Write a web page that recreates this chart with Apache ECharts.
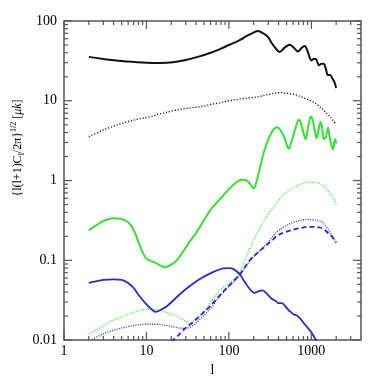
<!DOCTYPE html>
<html>
<head>
<meta charset="utf-8">
<script src="https://cdn.jsdelivr.net/npm/echarts@6/dist/echarts.min.js"></script>
<style>
  html, body { margin: 0; padding: 0; background: #fff; }
  #main { width: 382px; height: 382px; }
</style>
</head>
<body>
<div id="main"></div>
<script>
// [l, value] pairs
const blackSolid = [[2,35.5],[3,33.5],[4,32.3],[6,31],[10,30],[15,29.8],[21,30.5],[30,32.5],[44,36],[60,40],[78,44.5],[100,50],[135,57.5],[165,65],[196,71],[225,75],[260,70],[298,63],[330,53],[360,47],[413,41],[470,46],[547,50.5],[610,46.5],[690,41.5],[760,46],[830,48.7],[900,42],[1000,32],[1070,33.5],[1130,33.5],[1190,30],[1243,27.8],[1330,29.2],[1420,29],[1500,25],[1590,21],[1690,21],[1800,19],[1900,17.2],[2000,14.5]];
const blackDotted = [[2,3.55],[3,4.3],[4,4.8],[6,5.5],[8,5.9],[11,6.3],[15,6.9],[20,7.4],[30,8.0],[44,8.4],[60,9.0],[77,9.4],[100,10.0],[135,10.5],[180,10.9],[225,11.2],[300,12.0],[414,12.7],[500,12.4],[660,11.8],[800,10.9],[1050,9.7],[1250,8.5],[1510,7.08],[1750,6.0],[2000,5.07]];
const greenSolid = [[2,0.237],[3,0.31],[4,0.338],[5,0.33],[6,0.3],[7,0.24],[8,0.17],[9,0.125],[10,0.105],[11,0.099],[13,0.093],[15,0.085],[17,0.082],[19,0.086],[23,0.098],[28,0.13],[34,0.175],[40,0.22],[50,0.32],[60,0.43],[75,0.56],[100,0.78],[125,0.96],[145,1.02],[165,1.0],[185,0.88],[200,0.79],[215,0.95],[235,1.36],[270,2.4],[311,3.55],[350,4.4],[385,4.65],[420,4.3],[470,3.5],[510,2.7],[535,2.5],[565,2.9],[620,4.0],[680,5.5],[710,5.8],[750,5.2],[800,4.0],[850,3.3],[900,4.3],[960,6.0],[1000,6.3],[1060,5.2],[1120,3.8],[1160,3.4],[1220,4.3],[1290,5.4],[1340,4.8],[1420,3.3],[1500,3.5],[1590,4.6],[1660,3.6],[1720,3.0],[1830,2.45],[1900,3.1],[1950,3.3],[2000,2.9]];
const greenDotted = [[2,0.0118],[3,0.015],[4,0.0178],[6,0.021],[8,0.0233],[10,0.0242],[13,0.0243],[17,0.0225],[21,0.0208],[27,0.0185],[33,0.0166],[40,0.018],[50,0.023],[64,0.0324],[80,0.043],[102,0.052],[129,0.066],[155,0.1],[200,0.18],[235,0.25],[290,0.36],[344,0.46],[440,0.63],[548,0.765],[700,0.88],[870,0.944],[1050,0.95],[1220,0.93],[1450,0.83],[1660,0.7],[1850,0.6],[2000,0.5]];
const blueSolid = [[2,0.052],[3,0.057],[4,0.0578],[5,0.057],[6,0.052],[7,0.045],[8,0.037],[10,0.028],[12,0.0235],[13,0.0226],[15,0.024],[18,0.027],[25,0.037],[33,0.047],[44,0.058],[64,0.071],[85,0.079],[100,0.08],[115,0.077],[135,0.067],[155,0.054],[178,0.044],[205,0.039],[230,0.041],[255,0.042],[290,0.038],[330,0.033],[370,0.031],[400,0.029],[440,0.029],[490,0.026],[548,0.023],[610,0.021],[660,0.0205],[720,0.019],[830,0.0158],[1000,0.0125],[1150,0.0097]];
const blueDotted = [[2.2,0.0102],[3,0.012],[4,0.0133],[6,0.0148],[8,0.0155],[10,0.0158],[13,0.0158],[17,0.0153],[22,0.0145],[28,0.014],[35,0.0148],[44,0.018],[60,0.025],[77,0.035],[100,0.047],[135,0.065],[179,0.098],[230,0.128],[272,0.152],[330,0.19],[377,0.225],[460,0.26],[605,0.3],[750,0.318],[910,0.325],[1100,0.32],[1270,0.31],[1450,0.28],[1590,0.245],[1800,0.2],[2000,0.166]];
const blueDashed = [[20,0.0095],[25,0.0118],[30,0.0143],[36,0.0165],[44,0.02],[60,0.027],[77,0.036],[100,0.048],[135,0.066],[179,0.1],[230,0.128],[272,0.148],[330,0.175],[377,0.2],[460,0.222],[605,0.242],[750,0.255],[910,0.263],[1100,0.262],[1270,0.258],[1450,0.24],[1590,0.22],[1800,0.195],[2000,0.168]];

// tick positions
const xMajorTicks = [1, 10, 100, 1000];
const xMinorTicks = [2,3,4,5,6,7,8,9,20,30,40,50,60,70,80,90,200,300,400,500,600,700,800,900,2000,3000];
const yMajorTicks = [0.01, 0.1, 1, 10, 100];
const yMinorTicks = [0.02,0.03,0.04,0.05,0.06,0.07,0.08,0.09,0.2,0.3,0.4,0.5,0.6,0.7,0.8,0.9,2,3,4,5,6,7,8,9,20,30,40,50,60,70,80,90];

const X_MIN = 1, X_MAX = 4000, Y_MIN = 0.01, Y_MAX = 100;
const frameColor = '#555';
const serif = '"Liberation Serif", "DejaVu Serif", serif';

// [x, y, length, side] side 0 = x tick, 1 = y tick
const tickData = [];
xMajorTicks.forEach(v => tickData.push([v, Y_MIN, 8, 0]));
xMinorTicks.forEach(v => tickData.push([v, Y_MIN, 4, 0]));
yMajorTicks.forEach(v => tickData.push([X_MIN, v, 8, 1]));
yMinorTicks.forEach(v => tickData.push([X_MIN, v, 4, 1]));

function renderTick(params, api) {
  const r = params.coordSys;
  const p = api.coord([api.value(0), api.value(1)]);
  const len = api.value(2);
  const style = { stroke: frameColor, lineWidth: 1.2 };
  let a, b;
  if (api.value(3) === 0) {
    const bot = r.y + r.height;
    a = { x1: p[0], y1: bot, x2: p[0], y2: bot - len };
    b = { x1: p[0], y1: r.y, x2: p[0], y2: r.y + len };
  } else {
    const right = r.x + r.width;
    a = { x1: r.x, y1: p[1], x2: r.x + len, y2: p[1] };
    b = { x1: right, y1: p[1], x2: right - len, y2: p[1] };
  }
  return {
    type: 'group',
    children: [
      { type: 'line', shape: a, style: style },
      { type: 'line', shape: b, style: style }
    ]
  };
}

function line(data, color, width, type) {
  return {
    type: 'line',
    data: data,
    showSymbol: false,
    smooth: 0.35,
    lineStyle: { color: color, width: width, type: type },
    z: 3
  };
}

const chart = echarts.init(document.getElementById('main'));
const option = {
  animation: false,
  grid: {
    left: 64, right: 21, top: 21, bottom: 41,
    show: true, borderColor: frameColor, borderWidth: 1.5
  },
  xAxis: {
    type: 'log', min: X_MIN, max: X_MAX, logBase: 10,
    name: 'l', nameLocation: 'middle', nameGap: 18,
    nameTextStyle: { fontFamily: serif, fontSize: 14, color: '#000' },
    axisLine: { show: false },
    axisTick: { show: false },
    splitLine: { show: false },
    minorTick: { show: false },
    axisLabel: {
      showMaxLabel: false, margin: 4,
      fontFamily: serif, fontSize: 14, color: '#000',
      formatter: v => String(+Number(v).toPrecision(3))
    }
  },
  yAxis: {
    type: 'log', min: Y_MIN, max: Y_MAX, logBase: 10,
    axisLine: { show: false },
    axisTick: { show: false },
    splitLine: { show: false },
    axisLabel: {
      margin: 7,
      fontFamily: serif, fontSize: 14, color: '#000',
      formatter: v => String(+Number(v).toPrecision(3))
    }
  },
  graphic: [{
    type: 'text',
    x: 18, y: 148,
    rotation: Math.PI / 2,
    style: {
      text: '{l(l+1)C{s|l}/2π}{p|1/2} [{m|μk}]',
      font: '12px ' + serif,
      fill: '#000',
      align: 'center',
      verticalAlign: 'middle',
      rich: {
        s: { fontSize: 8, fontFamily: serif, verticalAlign: 'bottom', lineHeight: 16 },
        p: { fontSize: 8, fontFamily: serif, verticalAlign: 'top', lineHeight: 16 },
        m: { fontSize: 12, fontFamily: serif, fontStyle: 'italic' }
      }
    }
  }],
  series: [
    {
      type: 'custom',
      renderItem: renderTick,
      data: tickData,
      encode: { x: 0, y: 1 },
      silent: true,
      z: 5
    },
    line(blackSolid, '#111', 2, 'solid'),
    line(blackDotted, '#222', 1.4, [1.2, 1.8]),
    line(greenSolid, '#35e035', 2, 'solid'),
    line(greenDotted, '#35e035', 1.3, [1, 1.4]),
    line(blueSolid, '#2a2ad4', 1.8, 'solid'),
    line(blueDotted, '#2a2ad4', 1.3, [1, 1.4]),
    line(blueDashed, '#2a2ad4', 1.8, [5, 3])
  ]
};
chart.setOption(option);
</script>
</body>
</html>
